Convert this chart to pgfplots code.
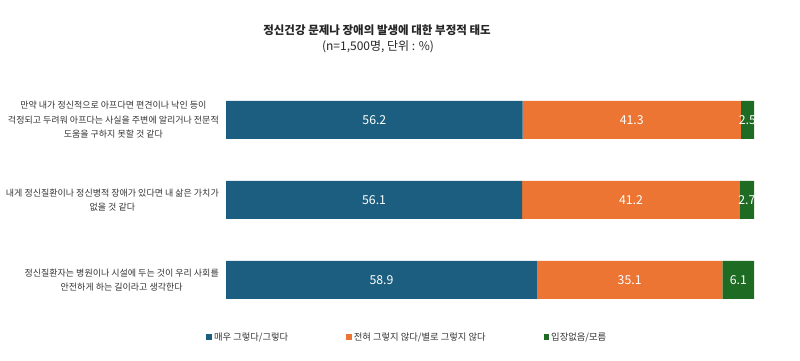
\documentclass[border=0pt]{standalone}
\usepackage{fontspec}
\setmainfont{Noto Sans CJK KR}
\usepackage{pgfplots}
\usepackage{pgfplotstable}
\pgfplotsset{compat=1.18}
\definecolor{cblue}{HTML}{1B5E7F}
\definecolor{corange}{HTML}{EC7533}
\definecolor{cgreen}{HTML}{1E6B23}
\definecolor{ctext}{HTML}{333333}
\pgfplotstableread{
y a b c
3 56.2 41.3 2.5
2 56.1 41.2 2.7
1 58.9 35.1 6.1
}\data
\pgfplotstableread{
x y lab
28.1 3 56.2
76.85 3 41.3
98.75 3 2.5
28.05 2 56.1
76.7 2 41.2
98.65 2 2.7
29.45 1 58.9
76.45 1 35.1
97.05 1 6.1
}\labs
\begin{document}
\begin{tikzpicture}
\useasboundingbox (0,0) rectangle (800pt,361pt);
\node[font=\bfseries\fontsize{11.5}{13}\selectfont, text=black!85] at (377pt,331pt) {정신건강 문제나 장애의 발생에 대한 부정적 태도};
\node[font=\fontsize{12}{13}\selectfont, text=black!85] at (378pt,314pt) {(n=1,500명, 단위 : \%)};
\pgfplotsset{myaxis/.style={
  at={(226pt,41pt)}, anchor=south west,
  scale only axis, width=528pt, height=240pt,
  xmin=0, xmax=100, ymin=0.5, ymax=3.5,
  axis line style={draw=none},
  xtick=\empty,
  major tick length=0pt,
}}
\begin{axis}[myaxis,
  xbar stacked, bar width=38pt,
  ytick={1,2,3},
  yticklabels={
    {정신질환자는 병원이나 시설에 두는 것이 우리 사회를\\안전하게 하는 길이라고 생각한다},
    {내게 정신질환이나 정신병적 장애가 있다면 내 삶은 가치가\\없을 것 같다},
    {만약 내가 정신적으로 아프다면 편견이나 낙인 등이\\걱정되고 두려워 아프다는 사실을 주변에 알리거나 전문적\\도움을 구하지 못할 것 같다}},
  yticklabel style={align=center, inner sep=0pt, xshift=-7pt, text=ctext,
    font=\fontsize{9}{14.4}\selectfont},
  legend columns=3,
  legend style={draw=none, fill=none, at={(axis description cs:-0.043,-0.071)}, anchor=west,
    font=\fontsize{9.3}{11}\selectfont, text=ctext,
    /tikz/every even column/.append style={column sep=56pt}},
  legend image code/.code={\fill[#1] (0pt,-2.8pt) rectangle (5.6pt,2.8pt);},
]
\addplot[fill=cblue, draw=none] table[x=a, y=y] {\data};
\addlegendentry{매우 그렇다/그렇다}
\addplot[fill=corange, draw=none] table[x=b, y=y] {\data};
\addlegendentry{전혀 그렇지 않다/별로 그렇지 않다}
\addplot[fill=cgreen, draw=none] table[x=c, y=y] {\data};
\addlegendentry{입장없음/모름}
\end{axis}
\begin{axis}[myaxis, ytick=\empty]
\addplot[only marks, mark=none, point meta=explicit symbolic,
  nodes near coords,
  every node near coord/.append style={anchor=center, text=white, font=\fontsize{12.3}{14}\selectfont}]
  table[x=x, y=y, meta=lab] {\labs};
\end{axis}
\end{tikzpicture}
\end{document}
